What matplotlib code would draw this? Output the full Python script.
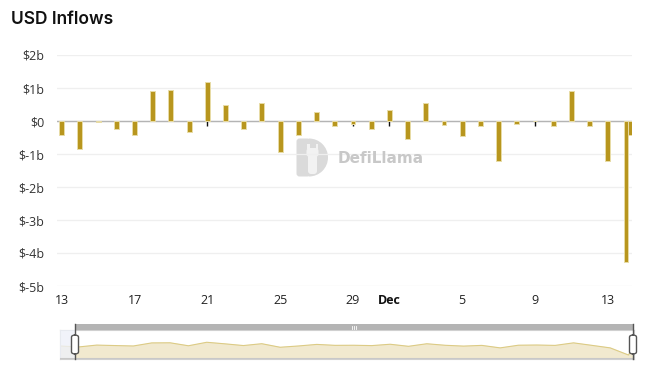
import matplotlib
matplotlib.use("Agg")
import matplotlib.pyplot as plt
import matplotlib.dates as mdates
from matplotlib.patches import Rectangle, FancyBboxPatch, Wedge
import numpy as np
import pandas as pd

# ---- data ----
dates = ["2023-11-13 00:00", "2023-11-14 00:00", "2023-11-15 00:00", "2023-11-16 00:00",
         "2023-11-17 00:00", "2023-11-18 00:00", "2023-11-19 00:00", "2023-11-20 00:00",
         "2023-11-21 00:00", "2023-11-22 00:00", "2023-11-23 00:00", "2023-11-24 00:00",
         "2023-11-25 00:00", "2023-11-26 00:00", "2023-11-27 00:00", "2023-11-28 00:00",
         "2023-11-29 00:00", "2023-11-30 00:00", "2023-12-01 00:00", "2023-12-02 00:00",
         "2023-12-03 00:00", "2023-12-04 00:00", "2023-12-05 00:00", "2023-12-06 00:00",
         "2023-12-07 00:00", "2023-12-08 00:00", "2023-12-09 00:00", "2023-12-10 00:00",
         "2023-12-11 00:00", "2023-12-12 00:00", "2023-12-13 00:00", "2023-12-14 00:00",
         "2023-12-14 06:00"]
inflows_b = [-0.41, -0.84, -0.03, -0.23, -0.41, 0.90, 0.95, -0.32, 1.17, 0.50,
             -0.23, 0.56, -0.95, -0.41, 0.26, -0.14, -0.10, -0.25, 0.33, -0.55,
             0.54, -0.11, -0.46, -0.16, -1.22, -0.08, 0.0, -0.16, 0.92, -0.14,
             -1.22, -4.27, -0.41]
y_ticks = [2, 1, 0, -1, -2, -3, -4, -5]
y_labels = ["$2b", "$1b", "$0", "$-1b", "$-2b", "$-3b", "$-4b", "$-5b"]
x_tick_dates = ["2023-11-13", "2023-11-17", "2023-11-21", "2023-11-25", "2023-11-29",
                "2023-12-01", "2023-12-05", "2023-12-09", "2023-12-13"]
x_tick_labels = ["13", "17", "21", "25", "29", "Dec", "5", "9", "13"]

x = mdates.date2num(pd.to_datetime(dates, format="%Y-%m-%d %H:%M"))
xt = mdates.date2num(pd.to_datetime(x_tick_dates, format="%Y-%m-%d"))

W, H = 646, 370
fig = plt.figure(figsize=(W / 100, H / 100), dpi=100)
fig.patch.set_facecolor("white")

def fx(px):
    return px / W

def fy(py):
    return 1 - py / H

BAR = "#b8961e"
EDGE = "#e8dca6"
TXT = "#333333"

# ---- watermark (drawn first, behind the chart) ----
logo_ax = fig.add_axes([fx(296), fy(177), fx(329) - fx(296), fy(138) - fy(177)])
logo_ax.set_xlim(0, 33)
logo_ax.set_ylim(0, 39)
logo_ax.axis("off")
logo_ax.set_zorder(-1)
logo_ax.add_patch(FancyBboxPatch((0.5, 0.5), 14, 38, boxstyle="round,pad=0,rounding_size=3",
                                 fc="#dadada", ec="none"))
logo_ax.add_patch(Wedge((13, 19.5), 19, -90, 90, fc="#dadada", ec="none"))
logo_ax.add_patch(FancyBboxPatch((12, 3), 9, 20, boxstyle="round,pad=0,rounding_size=3",
                                 fc="#f2f2f2", ec="none"))
logo_ax.add_patch(FancyBboxPatch((10.5, 20), 12, 9, boxstyle="round,pad=0,rounding_size=3",
                                 fc="#f2f2f2", ec="none"))
logo_ax.add_patch(Rectangle((11, 28), 2.5, 5, fc="#f2f2f2", ec="none"))
logo_ax.add_patch(Rectangle((19.5, 28), 2.5, 5, fc="#f2f2f2", ec="none"))

fig.text(fx(338), fy(158), "DefiLlama", fontsize=11, fontweight="bold",
         color="#c8c8c8", va="center", ha="left", zorder=0, family="DejaVu Sans")

# ---- main axes ----
ax = fig.add_axes([fx(57), fy(286), fx(632) - fx(57), fy(55) - fy(286)])
ax.patch.set_visible(False)
ax.set_ylim(-5, 2)
day0 = x[0]
ax.set_xlim(day0 - 0.26, day0 + 31.33)

for s in ax.spines.values():
    s.set_visible(False)
ax.set_yticks(y_ticks)
ax.set_yticklabels(y_labels, fontsize=9, color=TXT, family="Open Sans")
ax.tick_params(axis="y", length=0, pad=9)
ax.yaxis.grid(True, color="#efefef", linewidth=0.9)
ax.set_axisbelow(True)
ax.axhline(0, color="#b4b4b4", linewidth=1.0, zorder=1)

ax.set_xticks(xt)
ax.set_xticklabels(x_tick_labels, fontsize=9, color="#222222", family="Open Sans")
ax.tick_params(axis="x", length=0, pad=6)
for lab in ax.get_xticklabels():
    if lab.get_text() == "Dec":
        lab.set_fontweight("bold")
        lab.set_color("#111111")

# small tick marks hanging from the zero line
ax.vlines(xt, 0, -0.15, color="#111111", linewidth=1.0, zorder=1.5)

ax.bar(x, inflows_b, width=0.27, color=BAR, edgecolor=EDGE, linewidth=0.7, zorder=3)

# ---- title ----
fig.text(fx(11), fy(20), "USD Inflows", fontsize=12.5, fontweight="semibold",
         color="#111111", va="center", ha="left", family="Inter")

# ---- data zoom slider ----
sl = fig.add_axes([fx(60), fy(359), fx(634) - fx(60), fy(330) - fy(359)])
sl.set_ylim(-5.96, 6.4)
sl.set_xlim(day0 - 0.0, day0 + 31.3)
sl.set_xticks([])
sl.set_yticks([])
for s in sl.spines.values():
    s.set_color("#d0d0d0")
    s.set_linewidth(0.8)
sel_start = day0 + 15 / 18.3
sl.fill_between(x, inflows_b, -5.96, color="#f1e9cf", zorder=1)
sl.plot(x, inflows_b, color="#dccb85", linewidth=0.8, zorder=2)
sl.axvspan(day0, sel_start, color="#eef1f9", alpha=0.8, zorder=3, lw=0)
sl.axhline(-5.96, color="#c8c8c8", linewidth=1.5, zorder=4)

# top drag bar
fig.patches.append(Rectangle((fx(75), fy(329.5)), fx(634) - fx(75), fy(324) - fy(329.5),
                             transform=fig.transFigure, fc="#b4b4b4", ec="none"))
for dx in (-2, 0, 2):
    fig.lines.append(plt.Line2D([fx(354 + dx)] * 2, [fy(328.5), fy(325.5)],
                                transform=fig.transFigure, color="white", linewidth=0.6))
# handles
for hx in (75, 633):
    fig.lines.append(plt.Line2D([fx(hx)] * 2, [fy(359), fy(324)], transform=fig.transFigure,
                                color="#555555", linewidth=1.0, zorder=10))
    fig.patches.append(FancyBboxPatch((fx(hx - 3.5), fy(354)), fx(7), fy(335) - fy(354),
                                      boxstyle="round,pad=0,rounding_size=0.006",
                                      transform=fig.transFigure, fc="white",
                                      ec="#555555", linewidth=1.0, zorder=11))

fig.savefig("out.png", dpi=100, facecolor="white")
